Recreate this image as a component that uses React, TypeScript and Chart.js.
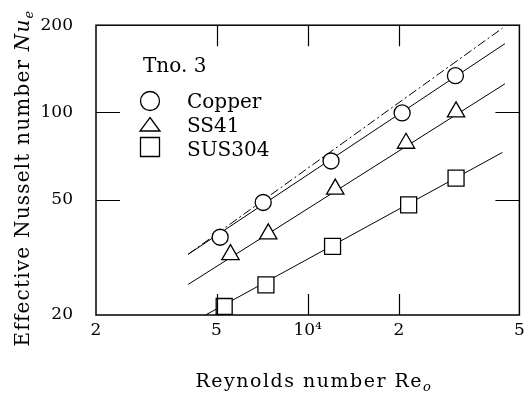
import React, { useEffect, useRef } from 'react';
import { Chart, registerables } from 'chart.js';

Chart.register(...registerables);

// ---- data ----
const xTicks = [2000, 5000, 10000, 20000, 50000];
const xTickLabels = ['2', '5', '10⁴', '2', '5'];
const yTicks = [20, 50, 100, 200];
const yTickLabels = ['20', '50', '100', '200'];

const seriesNames = ['Copper', 'SS41', 'SUS304'];
const legendTitle = 'Tno. 3';
const xTitle = 'Reynolds number Re';
const xTitleSub = 'o';
const yTitle = 'Effective Nusselt number ';
const yTitleSym = 'Nu';
const yTitleSub = 'e';

const copperRe = [5140, 7130, 11940, 20500, 30740];
const copperNu = [37.1, 48.9, 68.0, 99.6, 133.9];
const ss41Re = [5560, 7410, 12330, 21120, 30890];
const ss41Nu = [32.3, 38.1, 54.4, 78.3, 100.5];
const susRe = [5300, 7280, 12080, 21540, 30890];
const susNu = [21.4, 25.4, 34.5, 48.0, 59.3];

const copperFitRe = [4030, 44820];
const copperFitNu = [32.4, 172.8];
const dashFitRe = [4030, 43960];
const dashFitNu = [32.4, 195.4];
const ss41FitRe = [4030, 44820];
const ss41FitNu = [25.5, 125.6];
const susFitRe = [4600, 43960];
const susFitNu = [20, 72.8];

const pts = (xs: number[], ys: number[]) => xs.map((x, i) => ({ x, y: ys[i] }));

const SERIF = '"DejaVu Serif", serif';

function drawMarker(ctx: CanvasRenderingContext2D, kind: string, x: number, y: number, s: number) {
  ctx.beginPath();
  if (kind === 'circle') {
    ctx.arc(x, y, s, 0, Math.PI * 2);
  } else if (kind === 'triangle') {
    ctx.moveTo(x, y - s * 0.75);
    ctx.lineTo(x + s, y + s * 0.6);
    ctx.lineTo(x - s, y + s * 0.6);
    ctx.closePath();
  } else {
    ctx.rect(x - s, y - s, 2 * s, 2 * s);
  }
  ctx.fillStyle = '#fff';
  ctx.fill();
  ctx.stroke();
}

const decor = {
  id: 'decor',
  afterDraw(chart: any) {
    const { ctx, chartArea: a, scales } = chart;
    const xs = scales.x;
    const ys = scales.y;
    ctx.save();
    ctx.strokeStyle = '#000';
    ctx.lineWidth = 1.5;
    ctx.strokeRect(a.left, a.top, a.right - a.left, a.bottom - a.top);
    ctx.lineWidth = 1.2;
    ctx.beginPath();
    xTicks.forEach((v) => {
      const px = Math.round(xs.getPixelForValue(v)) + 0.5;
      if (px > a.left + 2 && px < a.right - 2) {
        ctx.moveTo(px, a.bottom);
        ctx.lineTo(px, a.bottom - 21);
        ctx.moveTo(px, a.top);
        ctx.lineTo(px, a.top + 21);
      }
    });
    yTicks.forEach((v) => {
      const py = Math.round(ys.getPixelForValue(v)) + 0.5;
      if (py > a.top + 2 && py < a.bottom - 2) {
        ctx.moveTo(a.left, py);
        ctx.lineTo(a.left + 24, py);
        ctx.moveTo(a.right, py);
        ctx.lineTo(a.right - 24, py);
      }
    });
    ctx.stroke();

    // legend
    ctx.fillStyle = '#000';
    ctx.font = `20px ${SERIF}`;
    ctx.textAlign = 'left';
    ctx.textBaseline = 'alphabetic';
    ctx.fillText(legendTitle, 143, 72);
    const kinds = ['circle', 'triangle', 'rect'];
    const rowY = [101, 125, 147];
    const baseY = [108, 132, 156];
    ctx.lineWidth = 1.3;
    seriesNames.forEach((name, i) => {
      drawMarker(ctx, kinds[i], 150, rowY[i], kinds[i] === 'circle' ? 9.5 : kinds[i] === 'triangle' ? 10 : 9.5);
      ctx.fillStyle = '#000';
      ctx.fillText(name, 187, baseY[i]);
    });

    // x title
    ctx.font = `19px ${SERIF}`;
    (ctx as any).letterSpacing = '1.5px';
    const w1 = ctx.measureText(xTitle).width;
    ctx.font = `italic 13px ${SERIF}`;
    const w2 = ctx.measureText(xTitleSub).width;
    const x0 = 314 - (w1 + w2) / 2;
    ctx.font = `19px ${SERIF}`;
    ctx.fillText(xTitle, x0, 387);
    ctx.font = `italic 13px ${SERIF}`;
    ctx.fillText(xTitleSub, x0 + w1, 391);

    // y title
    ctx.save();
    ctx.translate(29, 178);
    ctx.rotate(-Math.PI / 2);
    (ctx as any).letterSpacing = '1.2px';
    ctx.font = `20px ${SERIF}`;
    const a1 = ctx.measureText(yTitle).width;
    ctx.font = `italic 20px ${SERIF}`;
    const a2 = ctx.measureText(yTitleSym).width;
    ctx.font = `italic 13px ${SERIF}`;
    const a3 = ctx.measureText(yTitleSub).width;
    let sx = -(a1 + a2 + a3) / 2;
    ctx.font = `20px ${SERIF}`;
    ctx.fillText(yTitle, sx, 0);
    sx += a1;
    ctx.font = `italic 20px ${SERIF}`;
    ctx.fillText(yTitleSym, sx, 0);
    sx += a2;
    ctx.font = `italic 13px ${SERIF}`;
    ctx.fillText(yTitleSub, sx, 4);
    ctx.restore();

    ctx.restore();
  },
};

export default function App() {
  const ref = useRef<HTMLCanvasElement | null>(null);
  useEffect(() => {
    if (!ref.current) return;
    const markerBase = {
      showLine: false,
      backgroundColor: '#fff',
      borderColor: '#000',
      borderWidth: 1.3,
      order: 0,
    };
    const lineBase = {
      showLine: true,
      pointRadius: 0,
      borderColor: '#000',
      borderWidth: 1,
      fill: false,
      order: 1,
    };
    const chart = new Chart(ref.current, {
      type: 'scatter',
      data: {
        datasets: [
          { ...markerBase, label: seriesNames[0], data: pts(copperRe, copperNu), pointStyle: 'circle', pointRadius: 8 },
          { ...markerBase, label: seriesNames[1], data: pts(ss41Re, ss41Nu), pointStyle: 'triangle', pointRadius: 10 },
          { ...markerBase, label: seriesNames[2], data: pts(susRe, susNu), pointStyle: 'rect', pointRadius: 11.3 },
          { ...lineBase, label: 'copper fit', data: pts(copperFitRe, copperFitNu) },
          { ...lineBase, label: 'dash fit', data: pts(dashFitRe, dashFitNu), borderDash: [9, 3, 2, 3] },
          { ...lineBase, label: 'ss41 fit', data: pts(ss41FitRe, ss41FitNu) },
          { ...lineBase, label: 'sus fit', data: pts(susFitRe, susFitNu) },
        ] as any,
      },
      options: {
        animation: false,
        responsive: false,
        devicePixelRatio: 1,
        layout: { padding: { top: 17, right: 4, left: 0, bottom: 0 } },
        plugins: { legend: { display: false }, tooltip: { enabled: false } },
        scales: {
          x: {
            type: 'logarithmic',
            min: 2000,
            max: 50000,
            grid: { display: false },
            border: { display: false },
            afterBuildTicks: (s: any) => {
              s.ticks = xTicks.map((v) => ({ value: v }));
            },
            afterFit: (s: any) => {
              s.height = 83;
            },
            ticks: {
              autoSkip: false,
              maxRotation: 0,
              padding: -3,
              color: '#000',
              font: { family: SERIF, size: 17 },
              callback: (v: any) => xTickLabels[xTicks.indexOf(Number(v))] ?? '',
            },
          },
          y: {
            type: 'logarithmic',
            min: 20,
            max: 200,
            grid: { display: false },
            border: { display: false },
            afterBuildTicks: (s: any) => {
              s.ticks = yTicks.map((v) => ({ value: v }));
            },
            afterFit: (s: any) => {
              s.width = 96;
            },
            ticks: {
              autoSkip: false,
              padding: 15,
              color: '#000',
              font: { family: SERIF, size: 17 },
              callback: (v: any) => yTickLabels[yTicks.indexOf(Number(v))] ?? '',
            },
          },
        },
      } as any,
      plugins: [decor],
    });
    return () => chart.destroy();
  }, []);
  return (
    <div style={{ position: 'absolute', left: 0, top: 0, width: 532, height: 398, background: '#fff' }}>
      <canvas ref={ref} width={532} height={398} />
    </div>
  );
}
